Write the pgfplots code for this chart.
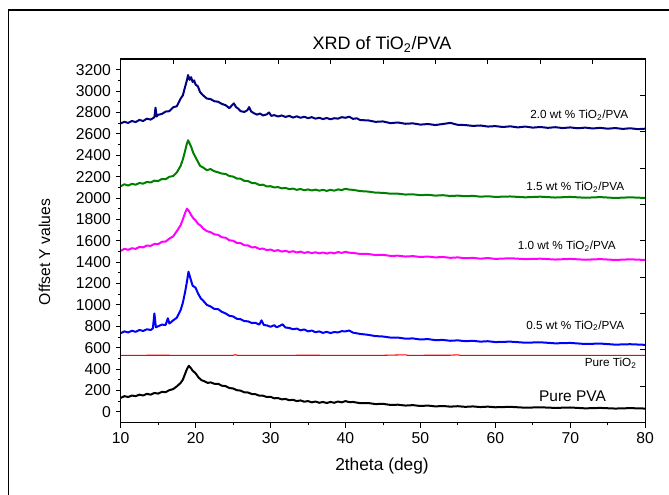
\documentclass[border=0pt]{standalone}
\usepackage{pgfplots}
\pgfplotsset{compat=1.18}
\usepackage{fontspec}
\setmainfont{Liberation Sans}

\definecolor{navyc}{RGB}{0,0,128}
\definecolor{greenc}{RGB}{0,128,0}
\definecolor{magc}{RGB}{255,0,255}
\definecolor{bluec}{RGB}{0,0,255}
\definecolor{redc}{RGB}{255,0,0}

\begin{document}
\begin{tikzpicture}[x=0.75pt,y=0.75pt]
\path[use as bounding box] (0,0) rectangle (669,495);
% outer frame
\draw[line width=0.8pt] (8.5,-2) -- (8.5,485) -- (672,485);

\begin{axis}[
  at={(90.5pt,54.4pt)}, anchor=south west,
  scale only axis, width=393.4pt, height=272.6pt,
  xmin=10, xmax=80, ymin=-100, ymax=3300,
  xtick={10,20,...,80}, ytick={0,200,...,3200},
  minor x tick num=1, minor y tick num=1,
  xtick pos=left, ytick pos=left,
  tick align=outside,
  major tick length=3.8pt, minor tick length=2.2pt,
  every tick/.style={black, line width=0.6pt},
  axis line style={line width=0.8pt},
  tick label style={font=\fontsize{11.8}{14}\selectfont},
  /pgf/number format/assume math mode=true,
  /pgf/number format/1000 sep={},
  every axis plot/.append style={line join=round},
  clip=true,
]
\addplot[navyc, line width=1.5pt] coordinates {
(10,2698) (10.5,2712) (11,2702) (11.5,2720) (12,2710) (12.5,2730) (13,2720) (13.5,2742) (14,2733) (14.5,2755) (14.65,2845) (14.8,2762) (15,2778) (15.5,2786) (16,2808) (16.5,2812) (17,2848) (17.5,2858) (18,2930) (18.3,2960) (18.6,3040) (18.8,3090) (19,3150) (19.2,3105) (19.4,3130) (19.6,3085) (19.8,3100) (20,3060) (20.3,3045) (20.6,2990) (21,2960) (21.5,2930) (22,2925) (22.5,2905) (23,2900) (23.5,2880) (24,2868) (24.5,2840) (24.9,2870) (25.1,2885) (25.4,2850) (25.7,2835) (26,2812) (26.5,2805) (26.9,2820) (27.15,2850) (27.4,2810) (27.8,2792) (28.2,2780) (28.6,2790) (29,2772) (29.5,2782) (29.8,2800) (30.1,2768) (30.5,2775) (31,2762) (31.5,2772) (32,2758) (32.5,2768) (33,2752) (33.5,2764) (34,2750) (34.5,2760) (35,2746) (35.5,2756) (36,2742) (36.5,2750) (37,2738) (37.5,2748) (38,2736) (38.5,2746) (39,2742) (39.5,2756) (40,2750) (40.5,2760) (41,2740) (41.5,2745) (42,2728) (43,2726) (44,2712) (45,2716) (46,2700) (47,2706) (48,2694) (49,2698) (50,2686) (51,2692) (52,2682) (53,2692) (54,2702) (55,2684) (56,2682) (57,2674) (58,2678) (59,2668) (60,2672) (61,2664) (62,2670) (63,2660) (64,2668) (65,2658) (66,2664) (67,2656) (68,2662) (69,2654) (70,2660) (71,2652) (72,2658) (73,2650) (74,2656) (75,2648) (76,2654) (77,2646) (78,2652) (79,2644) (80,2648)
};
\addplot[greenc, line width=1.5pt] coordinates {
(10,2110) (10.5,2128) (11,2116) (11.5,2132) (12,2124) (12.5,2140) (13,2134) (13.5,2150) (14,2145) (14.5,2162) (15,2158) (15.5,2178) (16,2175) (16.5,2198) (17,2205) (17.5,2240) (18,2300) (18.3,2360) (18.6,2440) (18.8,2500) (19,2540) (19.2,2510) (19.4,2480) (19.7,2420) (20,2380) (20.3,2340) (20.6,2300) (21,2285) (21.5,2260) (22,2270) (22.5,2250) (23,2240) (23.5,2228) (24,2225) (24.5,2205) (25,2200) (25.5,2182) (26,2180) (26.5,2160) (27,2158) (27.5,2140) (28,2138) (28.5,2122) (29,2124) (29.5,2108) (30,2110) (30.5,2098) (31,2102) (31.5,2090) (32,2094) (32.5,2082) (33,2088) (33.5,2076) (34,2084) (34.5,2072) (35,2080) (35.5,2070) (36,2078) (36.5,2068) (37,2076) (37.5,2066) (38,2076) (38.5,2068) (39,2080) (39.5,2074) (40,2086) (40.5,2078) (41,2076) (42,2064) (43,2060) (44,2050) (45,2048) (46,2040) (47,2040) (48,2032) (49,2034) (50,2026) (51,2030) (52,2022) (53,2026) (54,2018) (55,2022) (56,2016) (57,2020) (58,2012) (59,2016) (60,2010) (62,2014) (64,2006) (66,2012) (68,2004) (70,2010) (72,2002) (74,2008) (76,2000) (78,2006) (80,2000)
};
\addplot[magc, line width=1.5pt] coordinates {
(10,1505) (10.5,1525) (11,1515) (11.5,1530) (12,1524) (12.5,1542) (13,1538) (13.5,1555) (14,1552) (14.5,1570) (15,1568) (15.5,1590) (16,1592) (16.5,1620) (17,1640) (17.5,1690) (18,1745) (18.3,1800) (18.6,1860) (18.85,1900) (19.1,1880) (19.4,1840) (19.7,1810) (20,1790) (20.3,1760) (20.7,1740) (21,1715) (21.5,1690) (22,1680) (22.5,1660) (23,1655) (23.5,1632) (24,1628) (24.5,1604) (25,1600) (25.5,1580) (26,1578) (26.5,1558) (27,1556) (27.5,1538) (28,1540) (28.5,1524) (29,1526) (29.5,1512) (30,1518) (30.5,1504) (31,1512) (31.5,1498) (32,1506) (32.5,1494) (33,1502) (33.5,1490) (34,1498) (34.5,1486) (35,1494) (35.5,1484) (36,1492) (36.5,1482) (37,1490) (37.5,1480) (38,1490) (38.5,1482) (39,1494) (39.5,1486) (40,1496) (40.5,1488) (41,1486) (42,1476) (43,1476) (44,1466) (45,1468) (46,1458) (47,1460) (48,1452) (49,1456) (50,1448) (51,1452) (52,1444) (53,1448) (54,1440) (55,1444) (56,1436) (57,1440) (58,1432) (59,1438) (60,1430) (62,1436) (64,1428) (66,1432) (68,1424) (70,1430) (72,1422) (74,1428) (76,1420) (78,1426) (80,1420)
};
\addplot[bluec, line width=1.5pt] coordinates {
(10,735) (10.5,752) (11,742) (11.5,758) (12,748) (12.5,765) (13,756) (13.5,772) (14,765) (14.3,780) (14.5,920) (14.7,790) (15,800) (15.5,815) (16,812) (16.3,875) (16.5,825) (17,855) (17.5,880) (18,950) (18.3,1020) (18.6,1120) (18.85,1220) (19.05,1310) (19.3,1250) (19.6,1180) (20,1160) (20.3,1110) (20.7,1060) (21,1040) (21.5,1000) (22,985) (22.5,962) (23,960) (23.5,935) (24,920) (24.5,898) (25,892) (25.5,870) (26,866) (26.5,848) (27,846) (27.5,830) (28,832) (28.5,815) (28.8,855) (29.1,812) (29.5,808) (30,795) (30.5,810) (30.8,790) (31.2,802) (31.6,818) (32,788) (32.5,784) (33,772) (33.5,778) (34,762) (34.5,770) (35,752) (35.5,760) (36,744) (36.5,752) (37,738) (37.5,748) (38,736) (38.5,746) (39,742) (39.5,754) (40,752) (40.5,760) (41,740) (42,728) (43,720) (44,708) (45,704) (46,694) (47,694) (48,684) (49,686) (50,676) (51,680) (52,670) (53,672) (54,664) (55,668) (56,660) (57,664) (58,656) (59,660) (60,652) (62,656) (64,646) (66,650) (68,640) (70,644) (72,634) (74,638) (76,628) (78,632) (80,626)
};
\addplot[redc, line width=0.8pt] coordinates {
(10,527) (15,529) (20,527) (25,528) (25.3,534) (25.6,528) (30,527) (35,529) (40,527) (45,528) (48,533) (48.3,528) (54,529) (55,533) (55.3,528) (60,528) (65,527) (70,528) (75,527) (80,528)
};
\addplot[black, line width=1.5pt] coordinates {
(10,130) (10.5,146) (11,138) (11.5,152) (12,146) (12.5,160) (13,152) (13.5,168) (14,160) (14.5,176) (15,170) (15.5,186) (16,184) (16.5,202) (17,212) (17.5,238) (18,270) (18.3,300) (18.6,355) (18.85,400) (19.1,430) (19.35,410) (19.6,385) (20,360) (20.4,320) (20.8,295) (21.2,285) (21.6,270) (22,275) (22.5,262) (23,262) (23.5,244) (24,240) (24.5,222) (25,218) (25.5,202) (26,198) (26.5,182) (27,180) (27.5,166) (28,164) (28.5,150) (29,150) (29.5,138) (30,140) (30.5,126) (31,128) (31.5,116) (32,120) (32.5,108) (33,112) (33.5,100) (34,106) (34.5,94) (35,100) (35.5,88) (36,96) (36.5,84) (37,92) (37.5,82) (38,92) (38.5,84) (39,96) (39.5,88) (40,100) (40.5,90) (41,92) (42,80) (43,82) (44,72) (45,74) (46,64) (47,66) (48,58) (49,62) (50,54) (51,58) (52,50) (53,54) (54,48) (55,52) (56,46) (57,50) (58,44) (59,48) (60,42) (62,46) (64,38) (66,42) (68,36) (70,40) (72,32) (74,36) (76,30) (78,34) (80,30)
};
% curve labels
\node[font=\fontsize{8.8}{10}\selectfont] at (axis cs:71.2,2772) {2.0 wt \% TiO\textsubscript{2}/PVA};
\node[font=\fontsize{8.8}{10}\selectfont] at (axis cs:70.67,2100) {1.5 wt \% TiO\textsubscript{2}/PVA};
\node[font=\fontsize{8.8}{10}\selectfont] at (axis cs:69.53,1548) {1.0 wt \% TiO\textsubscript{2}/PVA};
\node[font=\fontsize{8.8}{10}\selectfont] at (axis cs:70.67,805) {0.5 wt \% TiO\textsubscript{2}/PVA};
\node[font=\fontsize{8.8}{10}\selectfont] at (axis cs:75.4,455) {Pure TiO\textsubscript{2}};
\node[font=\fontsize{11.6}{13}\selectfont] at (axis cs:70.3,143) {Pure PVA};
\end{axis}

% mirrored top and right ticks (ten equal divisions, pointing inward)
\begin{axis}[
  at={(90.5pt,54.4pt)}, anchor=south west,
  scale only axis, width=393.4pt, height=272.6pt,
  xmin=0, xmax=10, ymin=0, ymax=10,
  xtick={0,...,10}, ytick={0,...,10},
  xtick pos=right, ytick pos=right,
  tick align=inside, major tick length=3.8pt,
  every tick/.style={black, line width=0.6pt},
  axis line style={line width=0.8pt},
  xticklabels={}, yticklabels={},
]
\end{axis}

% title and axis labels
\node[font=\fontsize{13.5}{16}\selectfont] at (382,450.5) {XRD of TiO\textsubscript{2}/PVA};
\node[font=\fontsize{13}{16}\selectfont] at (382,29) {2theta (deg)};
\node[font=\fontsize{11.8}{14}\selectfont, rotate=90] at (44.5,243) {Offset Y values};
\end{tikzpicture}
\end{document}
